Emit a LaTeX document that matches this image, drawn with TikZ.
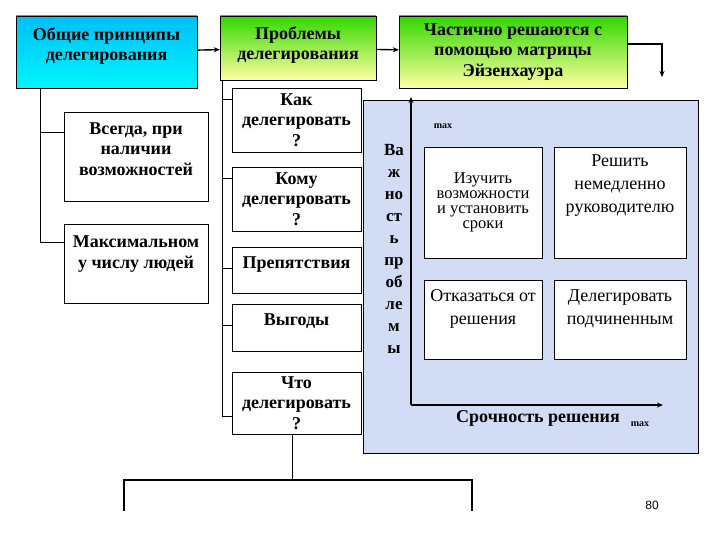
\documentclass[tikz,border=0pt]{standalone}
\usepackage{fontspec}
\setmainfont{Liberation Serif}
\setsansfont{Liberation Sans}
\usetikzlibrary{arrows.meta}

\begin{document}
\begin{tikzpicture}[x=1pt,y=-1pt,>={Stealth[length=6pt,width=5pt]},
				box/.style={rectangle,draw,fill=white,align=center,inner sep=1pt,
									font=\bfseries\fontsize{18}{20.5}\selectfont},
				cell/.style={rectangle,draw,fill=white,align=center,inner sep=1pt,
									font=\fontsize{18}{23}\selectfont},
				small/.style={font=\bfseries\fontsize{10}{12}\selectfont}]
\path[ use as bounding box ] (0,0) rectangle (720,540);

	% headers
	\node[box,minimum width=181,minimum height=72,
		top color={rgb,255:red,0;green,190;blue,250},
		bottom color={rgb,255:red,0;green,245;blue,250}] (b_1) at (106.5,52)
		{Общие принципы\\делегирования\\[-4.5pt]};
	\node[box,minimum width=156,minimum height=64,
		top color={rgb,255:red,50;green,215;blue,0},
		bottom color={rgb,255:red,255;green,255;blue,160}] (b_2) at (298,48)
		{Проблемы\\делегирования\\[-10.5pt]};
	\node[box,minimum width=228,minimum height=72,
		top color={rgb,255:red,50;green,215;blue,0},
		bottom color={rgb,255:red,255;green,255;blue,160}] (b_3) at (513,52)
		{Частично решаются с\\помощью матрицы\\Эйзенхауэра};

	% principles
	\node[box,minimum width=144,minimum height=89] (a_1) at (136,156.5)
		{Всегда, при\\наличии\\возможностей\\[-5.5pt]};
	\node[box,minimum width=144,minimum height=79] (a_2) at (136,263.5)
		{Максимальном\\у числу людей\\[2.5pt]};

	% problems
	\node[box,minimum width=129,minimum height=64] (c_1) at (296.5,120)
		{Как\\делегировать\\?};
	\node[box,minimum width=129,minimum height=64] (c_2) at (296.5,199)
		{Кому\\делегировать\\?};
	\node[box,minimum width=129,minimum height=46] (c_3) at (296.5,270)
		{Препятствия\\[-6.5pt]};
	\node[box,minimum width=129,minimum height=47] (c_4) at (296.5,327.5)
		{Выгоды\\[-5.5pt]};
	\node[box,minimum width=129,minimum height=62] (c_5) at (296.5,403)
		{Что\\делегировать\\?};

	% matrix
	\node[draw,minimum width=335,minimum height=353,
		fill={rgb,255:red,210;green,220;blue,244}] (m) at (530.5,276.5) {};
	\node[cell,minimum width=118,minimum height=111,font=\fontsize{16.5}{15}\selectfont]
		(q_1) at (483,202.5) {Изучить\\возможности\\и установить\\сроки};
	\node[cell,minimum width=132,minimum height=111] (q_2) at (620,202.5)
		{Решить\\немедленно\\руководителю\\[14pt]};
	\node[cell,minimum width=118,minimum height=79] (q_3) at (483,319.5)
		{Отказаться от\\решения\\[2pt]};
	\node[cell,minimum width=132,minimum height=79] (q_4) at (620,319.5)
		{Делегировать\\подчиненным\\[2pt]};
	\node[align=center,inner sep=0pt,font=\bfseries\fontsize{17}{22}\selectfont]
		(v) at (394,249) {Ва\\ж\\но\\ст\\ь\\пр\\об\\ле\\м\\ы};
	\node[small] (y_max) at (443,126) {max};
	\node[font=\bfseries\fontsize{18}{20}\selectfont] (x_lab) at (538,418) {Срочность решения};
	\node[small] (x_max) at (640,424) {max};
	\coordinate (o) at (411,405);
	\coordinate (y_end) at (411,97);
	\coordinate (x_end) at (663,405);
	\draw[->,line width=1.6pt] (o) -- (y_end);
	\draw[->,line width=1.6pt] (o) -- (x_end);

	% links
	\coordinate (out) at (662,77);
	\path[->,line width=1.4pt] (b_1) edge (b_2)
		(b_2) edge (b_3);
	\draw[->,line width=1.4pt] ([yshift=8pt]b_3.east) -| (out);

	\draw (b_1.south west) ++(24,0) |- ([yshift=21.5pt]a_2.west);
	\draw ([yshift=24.5pt]a_1.west) -- ++(-24,0);
	\draw (b_2.south west) ++(2,0) |- ([yshift=-13pt]c_5.west);
	\draw ([yshift=21pt]c_1.west) -- ++(-10,0);
	\draw ([yshift=21pt]c_2.west) -- ++(-10,0);
	\draw ([yshift=2pt]c_3.west) -- ++(-10,0);
	\draw ([yshift=2.5pt]c_4.west) -- ++(-10,0);

	\coordinate (l_1) at (124,511);
	\coordinate (l_2) at (472,511);
	\draw[line width=1.4pt] ([xshift=-4pt]c_5.south) -- ++(0,46);
	\draw[line width=1.4pt] (l_1) -- ++(0,-31) -| (l_2);

	\node[font=\sffamily\fontsize{12}{14}\selectfont] (page) at (652,505) {80};
\end{tikzpicture}
\end{document}
